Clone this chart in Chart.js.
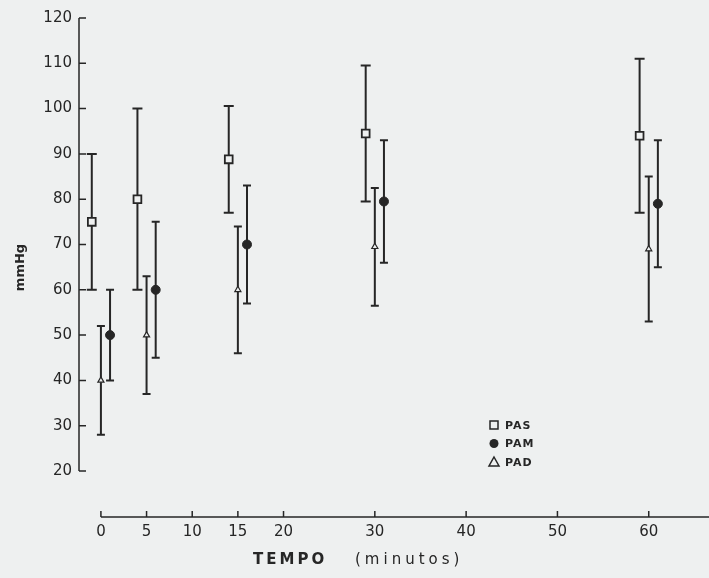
<!DOCTYPE html>
<html>
<head>
<meta charset="utf-8">
<script src="https://cdn.jsdelivr.net/npm/chart.js@4.4.1/dist/chart.umd.min.js"></script>
<style>
  html, body { margin: 0; padding: 0; background: #eef0f0; }
  #wrap { width: 709px; height: 578px; position: relative; }
</style>
</head>
<body>
<div id="wrap"><canvas id="pressao"></canvas></div>
<script>
// tempo em minutos, medias e desvios
const tempos = [0, 5, 15, 30, 60];
const pasMedia = [75, 80, 88.8, 94.5, 94];
const pasDP = [15, 20, 11.8, 15, 17];
const pamMedia = [50, 60, 70, 79.5, 79];
const pamDP = [10, 15, 13, 13.5, 14];
const padMedia = [40, 50, 60, 69.5, 69];
const padDP = [12, 13, 14, 13, 16];
const xTicks = [0, 5, 10, 15, 20, 30, 40, 50, 60];
const yTicks = [20, 30, 40, 50, 60, 70, 80, 90, 100, 110, 120];

const INK = '#262626';
const BG = '#eef0f0';
const FONT = '"DejaVu Sans", sans-serif';

function pontos(medias, desloc) {
    return tempos.map((t, i) => ({ x: t + desloc, y: medias[i] }));
}

// barras de erro + eixos desenhados a partir das escalas
const errorBars = {
    id: 'errorBars',
    beforeDatasetsDraw(chart) {
        const { ctx, scales: { x, y }, chartArea } = chart;
        ctx.save();
        ctx.strokeStyle = INK;
        ctx.lineWidth = 1.5;

        // eixo y (20 a 120)
        const yl = chartArea.left;
        ctx.beginPath();
        ctx.moveTo(yl, y.getPixelForValue(20));
        ctx.lineTo(yl, y.getPixelForValue(120));
        yTicks.forEach(v => {
            const py = y.getPixelForValue(v);
            ctx.moveTo(yl, py);
            ctx.lineTo(yl + 7, py);
        });
        ctx.stroke();

        // eixo x
        const xb = chartArea.bottom;
        ctx.beginPath();
        ctx.moveTo(x.getPixelForValue(0), xb);
        ctx.lineTo(chart.width, xb);
        xTicks.forEach(v => {
            const px = x.getPixelForValue(v);
            ctx.moveTo(px, xb);
            ctx.lineTo(px, xb - 6);
        });
        ctx.stroke();

        // barras de erro
        ctx.lineWidth = 2;
        chart.data.datasets.forEach((ds, di) => {
            const meta = chart.getDatasetMeta(di);
            meta.data.forEach((pt, i) => {
                const m = ds.data[i].y;
                const top = y.getPixelForValue(m + ds.dp[i]);
                const bot = y.getPixelForValue(m - ds.dp[i]);
                const w = ds.capWidth / 2;
                ctx.beginPath();
                ctx.moveTo(pt.x, top);
                ctx.lineTo(pt.x, bot);
                ctx.moveTo(pt.x - w, top);
                ctx.lineTo(pt.x + w, top);
                ctx.moveTo(pt.x - w, bot);
                ctx.lineTo(pt.x + w, bot);
                ctx.stroke();
            });
        });
        ctx.restore();
    },
    afterDraw(chart) {
        const { ctx } = chart;
        ctx.save();
        ctx.fillStyle = INK;
        ctx.textBaseline = 'middle';

        // titulo do eixo x
        ctx.font = 'bold 15px ' + FONT;
        ctx.letterSpacing = '3px';
        ctx.textAlign = 'left';
        ctx.fillText('TEMPO', 253, 560);
        ctx.font = '15px ' + FONT;
        ctx.letterSpacing = '4px';
        ctx.fillText('(minutos)', 355, 560);

        // legenda
        ctx.letterSpacing = '1px';
        ctx.font = 'bold 11px ' + FONT;
        const itens = [['PAS', 'rect'], ['PAM', 'circle'], ['PAD', 'triangle']];
        itens.forEach(([txt, forma], i) => {
            const cx = 494, cy = 425 + i * 18.5;
            ctx.strokeStyle = INK;
            ctx.lineWidth = 1.5;
            ctx.beginPath();
            if (forma === 'rect') {
                ctx.rect(cx - 4, cy - 4, 8, 8);
                ctx.stroke();
            } else if (forma === 'circle') {
                ctx.arc(cx, cy, 4.5, 0, Math.PI * 2);
                ctx.fill();
            } else {
                ctx.moveTo(cx, cy - 5);
                ctx.lineTo(cx + 5, cy + 4);
                ctx.lineTo(cx - 5, cy + 4);
                ctx.closePath();
                ctx.stroke();
            }
            ctx.fillText(txt, cx + 11, cy + 1);
        });
        ctx.restore();
    }
};

new Chart(document.getElementById('pressao'), {
    type: 'scatter',
    data: {
        datasets: [
            {
                label: 'PAS',
                data: pontos(pasMedia, -1),
                dp: pasDP,
                capWidth: 10,
                pointStyle: 'rect',
                pointRadius: 5.5,
                backgroundColor: BG,
                borderColor: INK,
                borderWidth: 1.8
            },
            {
                label: 'PAM',
                data: pontos(pamMedia, 1),
                dp: pamDP,
                capWidth: 8,
                pointStyle: 'circle',
                pointRadius: 4.5,
                backgroundColor: INK,
                borderColor: INK,
                borderWidth: 1
            },
            {
                label: 'PAD',
                data: pontos(padMedia, 0),
                dp: padDP,
                capWidth: 8,
                pointStyle: 'triangle',
                pointRadius: 3.5,
                backgroundColor: BG,
                borderColor: INK,
                borderWidth: 1.2
            }
        ]
    },
    options: {
        responsive: true,
        maintainAspectRatio: false,
        animation: false,
        layout: { autoPadding: false, padding: { top: 18, right: 0, left: 0, bottom: 0 } },
        plugins: {
            legend: { display: false },
            tooltip: { enabled: false }
        },
        scales: {
            x: {
                type: 'linear',
                min: -2.4,
                max: 66.6,
                afterBuildTicks: s => { s.ticks = xTicks.map(v => ({ value: v })); },
                afterFit: s => { s.height = 61; s.paddingLeft = 0; s.paddingRight = 0; },
                grid: { display: false, drawTicks: false },
                border: { display: false },
                ticks: {
                    color: INK,
                    padding: 6,
                    maxRotation: 0,
                    autoSkip: false,
                    font: { family: 'DejaVu Sans', size: 15 }
                }
            },
            y: {
                min: 9.85,
                max: 120,
                afterBuildTicks: s => { s.ticks = yTicks.map(v => ({ value: v })); },
                afterFit: s => { s.width = 79; },
                grid: { display: false, drawTicks: false },
                border: { display: false },
                title: {
                    display: true,
                    text: 'mmHg',
                    color: INK,
                    padding: { top: 13, bottom: 0 },
                    font: { family: 'DejaVu Sans', size: 13, weight: 'bold' }
                },
                ticks: {
                    color: INK,
                    padding: 7,
                    font: { family: 'DejaVu Sans', size: 15 }
                }
            }
        }
    },
    plugins: [errorBars]
});
</script>
</body>
</html>
